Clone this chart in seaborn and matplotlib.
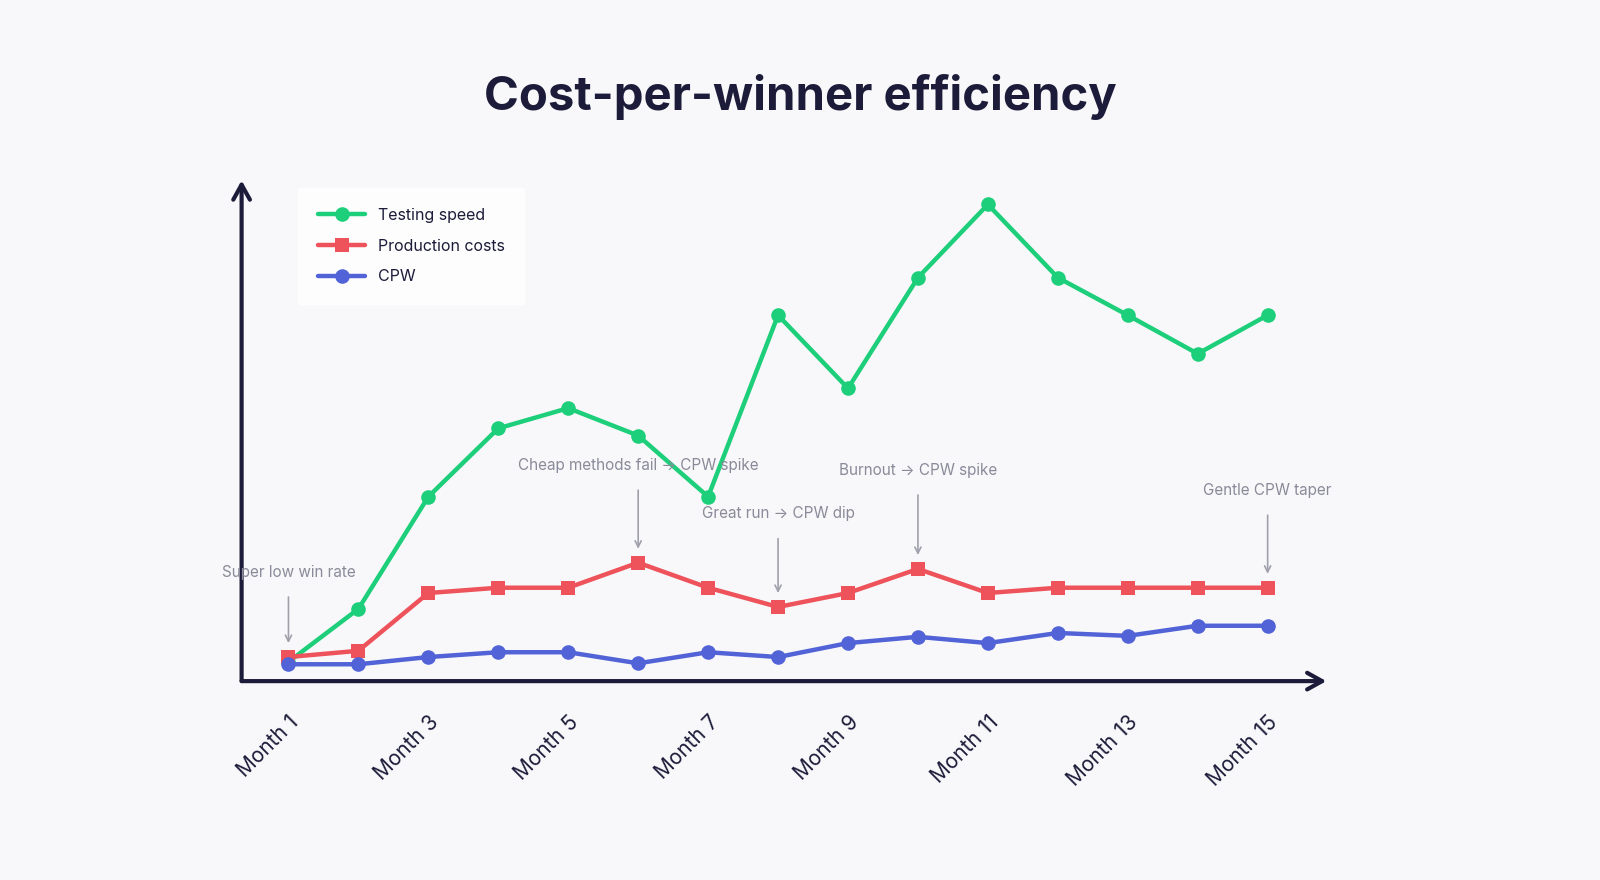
import matplotlib.pyplot as plt
import seaborn as sns
import pandas as pd

# Data
months = [f"Month {i}" for i in range(1, 16)]
testing_speed = [4, 15, 38.3, 52.5, 56.7, 51, 38.3, 76, 60.8, 83.8, 99, 83.8, 76, 68, 76]
production_costs = [5, 6.3, 18.3, 19.4, 19.4, 24.6, 19.4, 15.4, 18.3, 23.3, 18.3, 19.4, 19.4, 19.4, 19.4]
cpw = [3.5, 3.5, 5, 6, 6, 3.7, 6, 5, 7.9, 9.2, 7.9, 10, 9.4, 11.5, 11.5]

notes = [
    (1, "Super low win rate", 61),
    (6, "Cheap methods fail \u2192 CPW spike", 70),
    (8, "Great run \u2192 CPW dip", 67),
    (10, "Burnout \u2192 CPW spike", 71),
    (15, "Gentle CPW taper", 70),
]

df = pd.DataFrame({"x": range(1, 16), "Testing speed": testing_speed,
                   "Production costs": production_costs, "CPW": cpw})

sns.set_theme(style="white")
plt.rcParams['font.family'] = ['Inter', 'DejaVu Sans']

bg = "#f8f8fa"
navy = "#1c1c3a"
fig = plt.figure(figsize=(16, 8.8), dpi=100, facecolor=bg)
ax = fig.add_axes([0.151, 0.226, 0.678, 0.569])
ax.set_facecolor(bg)

styles = [("Testing speed", "#1dcf7a", "o"), ("Production costs", "#ee525a", "s"), ("CPW", "#5163d6", "o")]
for name, color, marker in styles:
    sns.lineplot(data=df, x="x", y=name, ax=ax, color=color, marker=marker, markersize=10.5,
                 markeredgewidth=0, linewidth=3.2, label=name)

ax.set_xlim(0.33, 15.84)
ax.set_ylim(0, 104)
for s in ax.spines.values():
    s.set_visible(False)
ax.set_yticks([])
ax.set_xticks(range(1, 16, 2))
ax.set_xticklabels(months[::2], rotation=45, ha="right", rotation_mode="anchor",
                   fontsize=15, color=navy)
ax.tick_params(axis="x", length=0, pad=22)
ax.set_xlabel("")
ax.set_ylabel("")

# axis arrows
ax.annotate("", xy=(0, 1.0), xytext=(0, 0), xycoords="axes fraction",
            arrowprops=dict(arrowstyle="->,head_length=0.9,head_width=0.5", color=navy, lw=3,
                            shrinkA=0, shrinkB=0))
ax.annotate("", xy=(1.0, 0), xytext=(0, 0), xycoords="axes fraction",
            arrowprops=dict(arrowstyle="->,head_length=0.9,head_width=0.5", color=navy, lw=3,
                            shrinkA=0, shrinkB=0))

for x, text, dist in notes:
    ax.annotate(text, xy=(x, production_costs[x - 1]), xytext=(0, dist),
                textcoords="offset points", ha="center", va="center", fontsize=11, color="#8a8a9a",
                arrowprops=dict(arrowstyle="->", color="#a0a0ad", lw=1.2, shrinkA=10, shrinkB=10))

leg = ax.legend(loc="upper left", bbox_to_anchor=(0.045, 1.0), frameon=True, fontsize=11.5,
                handlelength=3, borderpad=1.2, labelspacing=1.0, fancybox=True)
leg.get_frame().set_facecolor("white")
leg.get_frame().set_edgecolor("white")
for t in leg.get_texts():
    t.set_color(navy)

fig.text(0.5, 0.89, "Cost-per-winner efficiency", ha="center", va="center",
         fontsize=34, fontweight="bold", color=navy)

fig.savefig("out.png", dpi=100, facecolor=bg)
